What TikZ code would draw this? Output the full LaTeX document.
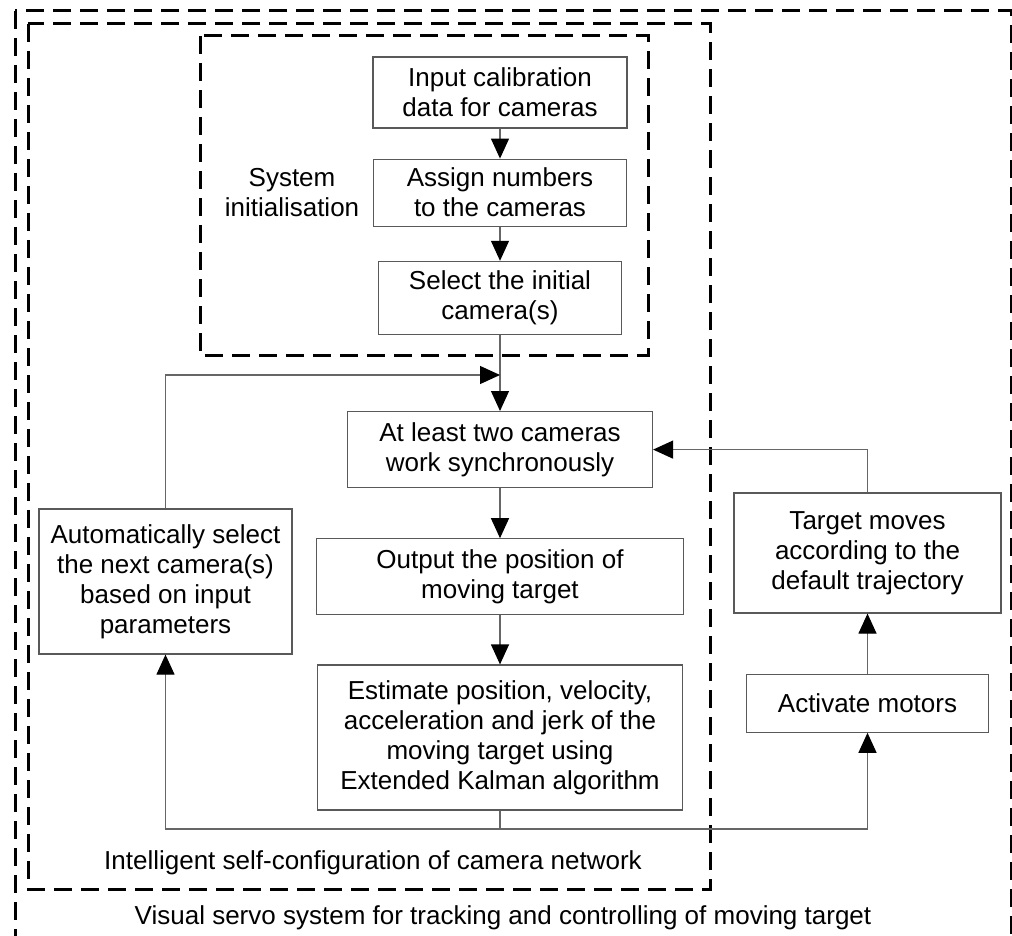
\documentclass[tikz,border=0pt]{standalone}
\usepackage{fontspec}
\setmainfont{Liberation Sans}
\usepackage{tikz}
\usetikzlibrary{positioning}
\usetikzlibrary{arrows.meta}

\tikzset{
	block/.style={draw=black!65, line width=1.2pt, align=center, inner sep=2pt, font=\fontsize{26}{30}\selectfont},
	tagtext/.style={align=center, inner sep=0pt, font=\fontsize{26}{30}\selectfont},
	groupbox/.style={draw=black, line width=3pt, dash pattern=on 18pt off 9pt},
	link/.style={draw=black!60, line width=1.2pt},
	flow/.style={link, -{Triangle[length=20pt,width=18pt,color=black]}}
}

\begin{document}
\begin{tikzpicture}[x=1pt,y=-1pt]
		\useasboundingbox (0,0) rectangle (1012,936);

		\draw[groupbox] (15,11) rectangle (1011,960);
		\draw[groupbox] (28,24) rectangle (710,889);
		\draw[groupbox] (200,36) rectangle (648,355);

		\node[block, minimum width=254pt, minimum height=71pt] (calib) at (500,92.5) {Input calibration\\data for cameras};
		\node[block, minimum width=253pt, minimum height=67pt] (assign) [below = 30pt of calib] {Assign numbers\\to the cameras};
		\node[block, minimum width=243pt, minimum height=73pt] (select) [below = 34pt of assign] {Select the initial\\camera(s)};
		\node[tagtext] (sysinit) at (292,193) {System\\initialisation};

		\node[block, minimum width=305pt, minimum height=76pt] (sync) [below = 76pt of select] {At least two cameras\\work synchronously};
		\node[block, minimum width=367pt, minimum height=76pt] (output) [below = 50pt of sync] {Output the position of\\moving target};
		\node[block, minimum width=365pt, minimum height=145pt] (estimate) [below = 49pt of output] {Estimate position, velocity,\\acceleration and jerk of the\\moving target using\\Extended Kalman algorithm};

		\node[block, minimum width=253pt, minimum height=145pt] (autosel) at (165.5,581.5) {Automatically select\\the next camera(s)\\based on input\\parameters};

		\node[block, minimum width=267pt, minimum height=120pt] (target) at (867.5,553) {Target moves\\according to the\\default trajectory};
		\node[block, minimum width=242pt, minimum height=58pt] (motors) [below = 60pt of target] {Activate motors};

		\node[tagtext] (network) at (373,863) {Intelligent self-configuration of camera network};
		\node[tagtext] (servo) at (503,918) {Visual servo system for tracking and controlling of moving target};

		\coordinate (join) at (500,375);
		\coordinate (split) at (500,829);

		\draw[flow] (calib) -- (assign);
		\draw[flow] (assign) -- (select);
		\draw[flow] (select) -- (sync);
		\draw[flow] (sync) -- (output);
		\draw[flow] (output) -- (estimate);
		\draw[flow] (autosel.north) |- (join);
		\draw[link] (estimate.south) -- (split);
		\draw[flow] (split) -| (autosel.south);
		\draw[flow] (split) -| (motors.south);
		\draw[flow] (motors) -- (target);
		\draw[flow] (target.north) |- (sync.east);
	\end{tikzpicture}
\end{document}
